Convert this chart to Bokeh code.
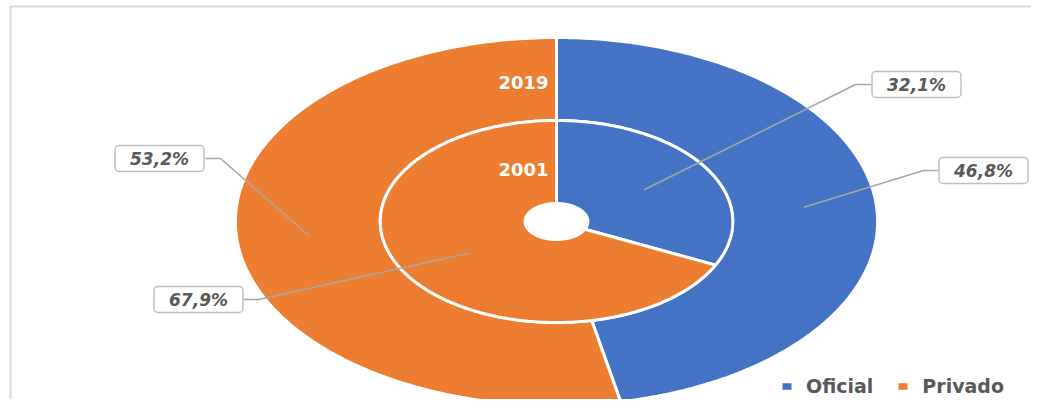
import numpy as np
from bokeh.plotting import figure
from bokeh.models import ColumnDataSource, Label, Legend, LegendItem, Range1d
from bokeh.core.properties import value
from bokeh.embed import file_html
from bokeh.resources import INLINE

# ---------------- data ----------------
categories = ["Oficial", "Privado"]
years = ["2019", "2001"]
share_2019 = [46.8, 53.2]   # outer ring
share_2001 = [32.1, 67.9]   # inner ring
colors = ["#4472C4", "#ED7D31"]

# label layout (box centres / elbow x) in plot pixels
label_box_x = {"2019": [983, 159], "2001": [916, 198]}
label_box_y = {"2019": [170, 158], "2001": [84, 299]}
label_elbow_x = {"2019": [923, 220], "2001": [855, 258]}
label_edge_x = {"2019": [938, 205], "2001": [871, 243]}
year_label_y = [82, 169]

# ---------------- geometry ----------------
W, H = 1031, 399
cx, cy = 556, 221
aspect = 1.745
rings = {"2019": (101, 184), "2001": (18, 101)}
values = {"2019": share_2019, "2001": share_2001}

p = figure(width=W, height=H, x_range=Range1d(0, W), y_range=Range1d(H, 0),
           output_backend="svg", toolbar_location=None, min_border=0,
           x_axis_type=None, y_axis_type=None, outline_line_color=None)
p.grid.visible = False
p.background_fill_color = "white"

def pt(r, t):
    return cx + aspect * r * np.sin(t), cy - r * np.cos(t)

xs, ys, fills, names = [], [], [], []
anchors = {}
for yr in years:
    r0, r1 = rings[yr]
    vals = np.array(values[yr], dtype=float)
    fr = vals / vals.sum()
    start = 0.0
    anchors[yr] = []
    for i, f in enumerate(fr):
        a0, a1 = start * 2 * np.pi, (start + f) * 2 * np.pi
        t = np.linspace(a0, a1, 200)
        ox, oy = pt(r1, t)
        ix, iy = pt(r0, t[::-1])
        xs.append(list(np.concatenate([ox, ix])))
        ys.append(list(np.concatenate([oy, iy])))
        fills.append(colors[i])
        names.append(categories[i])
        am = (start + f / 2) * 2 * np.pi
        anchors[yr].append(pt((r0 + r1) / 2, am))
        start += f

src = ColumnDataSource(dict(xs=xs, ys=ys, fill=fills, name=names))
ring_r = p.patches("xs", "ys", source=src, fill_color="fill", line_color="white", line_width=3)

# frame
p.line([10, 10, W], [H, 6, 6], line_color="#D9D9D9", line_width=2)

# leader lines
lx, ly = [], []
for yr in years:
    for i in range(2):
        ax, ay = anchors[yr][i]
        by = label_box_y[yr][i]
        lx.append([ax, label_elbow_x[yr][i], label_edge_x[yr][i]])
        ly.append([ay, by, by])
p.multi_line(lx, ly, line_color="#A6A6A6", line_width=1.5)

# data labels
def fmt(v):
    return f"{v:.1f}".replace(".", ",") + "%"

for yr in years:
    for i, v in enumerate(values[yr]):
        p.add_layout(Label(x=label_box_x[yr][i], y=label_box_y[yr][i], text=fmt(v),
                           text_align="center", text_baseline="middle",
                           text_font="DejaVu Sans", text_font_size="17px",
                           text_font_style="bold italic", text_color="#595959",
                           background_fill_color="white",
                           border_line_color="#BFBFBF", border_line_width=1.5,
                           padding=(15, 3), border_radius=4))

# year labels
ysrc = ColumnDataSource(dict(x=[cx - 8, cx - 8], y=year_label_y, text=years))
p.text(x="x", y="y", text="text", source=ysrc, text_align="right",
       text_baseline="middle", text_color="white", text_font=value("DejaVu Sans"),
       text_font_size="18px", text_font_style="bold")

# legend
legend = Legend(items=[LegendItem(label=categories[0], renderers=[ring_r], index=0),
                       LegendItem(label=categories[1], renderers=[ring_r], index=1)],
                orientation="horizontal", location=(779, 2),
                glyph_width=15, glyph_height=12, label_standoff=12, spacing=22,
                padding=0, margin=0, border_line_alpha=0, background_fill_alpha=0,
                label_text_font="DejaVu Sans", label_text_font_size="19px",
                label_text_font_style="bold", label_text_color="#595959")
p.add_layout(legend)

open("out.html", "w").write(file_html(p, INLINE))
